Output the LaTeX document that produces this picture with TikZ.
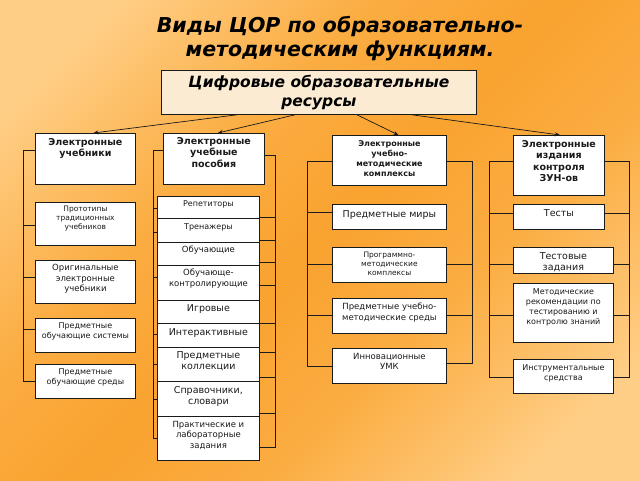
\documentclass[tikz,border=0pt]{standalone}
\usepackage{fontspec}
\setmainfont{DejaVu Sans}
\usetikzlibrary{arrows.meta}
\definecolor{topfill}{HTML}{FCEBD3}
\definecolor{ink}{HTML}{1A1A1A}
\definecolor{bgA}{HTML}{FFCE86}
\definecolor{bgB}{HTML}{FBAD42}
\definecolor{bgC}{HTML}{F9A330}
\pgfdeclarehorizontalshading{bgshade}{100bp}{%
  color(0bp)=(bgA); color(22bp)=(bgA); color(38bp)=(bgB); color(50bp)=(bgC);
  color(62bp)=(bgB); color(78bp)=(bgA); color(100bp)=(bgA)}
\tikzset{
  box/.style={draw=ink, line width=0.8pt, fill=white, inner sep=0pt, anchor=north west},
  lbl/.style={anchor=north, align=center, inner sep=0pt, text=ink},
  ln/.style={draw=ink, line width=0.8pt},
  arr/.style={draw=ink, line width=0.7pt, -{Stealth[length=5pt,width=4pt]}},
  fa/.style={font=\fontsize{7.5}{9}\selectfont},
  fb/.style={font=\fontsize{8}{10}\selectfont},
  fc/.style={font=\fontsize{8.5}{10.5}\selectfont},
  fd/.style={font=\fontsize{9.5}{11.5}\selectfont},
  hb/.style={font=\bfseries\fontsize{9.5}{11.5}\selectfont},
  hs/.style={font=\bfseries\fontsize{8}{10}\selectfont},
}
\begin{document}
\begin{tikzpicture}[x=1pt,y=-1pt]
\useasboundingbox (0,0) rectangle (640,480);
\shade[shading=bgshade, shading angle=135] (0,0) rectangle (640,480);

% title
\node[lbl, anchor=center, text=black, font=\bfseries\itshape\fontsize{20.5}{24}\selectfont] (title) at (340,39) {Виды ЦОР по образовательно-\\методическим функциям.};

% top box
\node[box, fill=topfill, minimum width=315pt, minimum height=44pt] (top) at (161,70) {};
\node[lbl, anchor=center, text=black, font=\bfseries\itshape\fontsize{15.5}{19}\selectfont] (topt) at (top.center) {Цифровые образовательные\\ресурсы};

% column 1
\node[box, minimum width=100pt, minimum height=51pt] (h1) at (35,133) {};
\node[lbl, hb] (h1t) at ([yshift=-5pt]h1.north) {Электронные\\учебники};
\node[box, minimum width=100pt, minimum height=43pt] (c11) at (35,202) {};
\node[lbl, fa] (c11t) at ([yshift=-4pt]c11.north) {Прототипы\\традиционных\\учебников};
\node[box, minimum width=100pt, minimum height=43pt] (c12) at (35,260) {};
\node[lbl, fc] (c12t) at ([yshift=-4pt]c12.north) {Оригинальные\\электронные\\учебники};
\node[box, minimum width=100pt, minimum height=34pt] (c13) at (35,318) {};
\node[lbl, fb] (c13t) at ([yshift=-4pt]c13.north) {Предметные\\обучающие системы};
\node[box, minimum width=100pt, minimum height=34pt] (c14) at (35,364) {};
\node[lbl, fb] (c14t) at ([yshift=-4pt]c14.north) {Предметные\\обучающие среды};

% column 2
\node[box, minimum width=101pt, minimum height=51pt] (h2) at (163,133) {};
\node[lbl, hb] (h2t) at ([yshift=-4pt]h2.north) {Электронные\\учебные\\пособия};
\node[box, minimum width=102pt, minimum height=22pt] (s1) at (157,196) {};
\node[lbl, fb] (s1t) at ([yshift=-4pt]s1.north) {Репетиторы};
\node[box, minimum width=102pt, minimum height=24pt] (s2) at (157,218) {};
\node[lbl, fb] (s2t) at ([yshift=-5pt]s2.north) {Тренажеры};
\node[box, minimum width=102pt, minimum height=23pt] (s3) at (157,242) {};
\node[lbl, fc] (s3t) at ([yshift=-4pt]s3.north) {Обучающие};
\node[box, minimum width=102pt, minimum height=35pt] (s4) at (157,265) {};
\node[lbl, fc] (s4t) at ([yshift=-4pt]s4.north) {Обучающе-\\контролирующие};
\node[box, minimum width=102pt, minimum height=23pt] (s5) at (157,300) {};
\node[lbl, fd] (s5t) at ([yshift=-4pt]s5.north) {Игровые};
\node[box, minimum width=102pt, minimum height=24pt] (s6) at (157,323) {};
\node[lbl, fd] (s6t) at ([yshift=-5pt]s6.north) {Интерактивные};
\node[box, minimum width=102pt, minimum height=34pt] (s7) at (157,347) {};
\node[lbl, fd] (s7t) at ([yshift=-4pt]s7.north) {Предметные\\коллекции};
\node[box, minimum width=102pt, minimum height=35pt] (s8) at (157,381) {};
\node[lbl, fd] (s8t) at ([yshift=-5pt]s8.north) {Справочники,\\словари};
\node[box, minimum width=102pt, minimum height=44pt] (s9) at (157,416) {};
\node[lbl, fc] (s9t) at ([yshift=-5pt]s9.north) {Практические и\\лабораторные\\задания};

% column 3
\node[box, minimum width=114pt, minimum height=50pt] (h3) at (332,135) {};
\node[lbl, hs] (h3t) at ([yshift=-5pt]h3.north) {Электронные\\учебно-\\методические\\комплексы};
\node[box, minimum width=114pt, minimum height=25pt] (m1) at (332,204) {};
\node[lbl, fd] (m1t) at ([yshift=-6pt]m1.north) {Предметные миры};
\node[box, minimum width=114pt, minimum height=35pt] (m2) at (332,247) {};
\node[lbl, fa] (m2t) at ([yshift=-5pt]m2.north) {Программно-\\методические\\комплексы};
\node[box, minimum width=114pt, minimum height=35pt] (m3) at (332,298) {};
\node[lbl, fc] (m3t) at ([yshift=-5pt]m3.north) {Предметные учебно-\\методические среды};
\node[box, minimum width=114pt, minimum height=35pt] (m4) at (332,348) {};
\node[lbl, fc] (m4t) at ([yshift=-5pt]m4.north) {Инновационные\\УМК};

% column 4
\node[box, minimum width=91pt, minimum height=60pt] (h4) at (513,135) {};
\node[lbl, hb] (h4t) at ([yshift=-5pt]h4.north) {Электронные\\издания\\контроля\\ЗУН-ов};
\node[box, minimum width=91pt, minimum height=25pt] (k1) at (513,204) {};
\node[lbl, fd] (k1t) at ([yshift=-5pt]k1.north) {Тесты};
\node[box, minimum width=100pt, minimum height=26pt] (k2) at (513,247) {};
\node[lbl, fd] (k2t) at ([yshift=-5pt]k2.north) {Тестовые\\задания};
\node[box, minimum width=100pt, minimum height=59pt] (k3) at (513,283) {};
\node[lbl, fb] (k3t) at ([yshift=-5pt]k3.north) {Методические\\рекомендации по\\тестированию и\\контролю знаний};
\node[box, minimum width=100pt, minimum height=34pt] (k4) at (513,359) {};
\node[lbl, fb] (k4t) at ([yshift=-5pt]k4.north) {Инструментальные\\средства};

% arrows from top box
\draw[arr] (top.south -| 237,0) -- ([xshift=8pt]h1.north);
\draw[arr] (top.south -| 295,0) -- ([xshift=4pt]h2.north);
\draw[arr] (top.south -| 357,0) -- ([xshift=9pt]h3.north);
\draw[arr] (top.south -| 412,0) -- ([xshift=1pt]h4.north);

% column 1 bracket
\draw[ln] (h1.west |- 0,150) -- (23,150) -- (23,381) -- (c14.west |- 0,381);
\foreach \yy/\nn in {225/c11, 277/c12, 329/c13}
  \draw[ln] (23,\yy) -- (\nn.west |- 0,\yy);

% column 2 brackets
\draw[ln] (h2.west |- 0,150) -- (153,150) -- (153,438) -- (s9.west |- 0,438);
\foreach \yy/\nn in {208/s1, 232/s2, 277/s4, 334/s6, 364/s7, 399/s8}
  \draw[ln] (153,\yy) -- (\nn.west |- 0,\yy);
\draw[ln] (h2.east |- 0,155) -- (275,155) -- (275,447) -- (s9.east |- 0,447);
\foreach \yy/\nn in {217/s1, 240/s2, 262/s3, 285/s4, 323/s5, 352/s7, 377/s7, 413/s8}
  \draw[ln] (275,\yy) -- (\nn.east |- 0,\yy);

% column 3 brackets
\draw[ln] (h3.west |- 0,161) -- (307,161) -- (307,366) -- (m4.west |- 0,366);
\foreach \yy/\nn in {212/m1, 264/m2, 315/m3}
  \draw[ln] (307,\yy) -- (\nn.west |- 0,\yy);
\draw[ln] (h3.east |- 0,161) -- (472,161) -- (472,363) -- (m4.east |- 0,363);
\foreach \yy/\nn in {264/m2, 315/m3}
  \draw[ln] (472,\yy) -- (\nn.east |- 0,\yy);

% column 4 brackets
\draw[ln] (h4.west |- 0,161) -- (489,161) -- (489,377) -- (k4.west |- 0,377);
\foreach \yy/\nn in {213/k1, 264/k2, 315/k3}
  \draw[ln] (489,\yy) -- (\nn.west |- 0,\yy);
\draw[ln] (h4.east |- 0,161) -- (629,161) -- (629,377) -- (k4.east |- 0,377);
\foreach \yy/\nn in {213/k1, 264/k2, 315/k3}
  \draw[ln] (629,\yy) -- (\nn.east |- 0,\yy);
\end{tikzpicture}
\end{document}
